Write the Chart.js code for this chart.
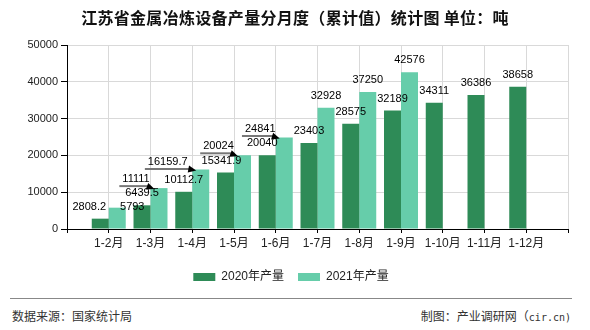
<!DOCTYPE html>
<html>
<head>
<meta charset="utf-8">
<script src="https://cdn.jsdelivr.net/npm/chart.js@4.4.0/dist/chart.umd.min.js"></script>
<style>
    body { margin: 0; background: #fff; }
    #wrap { position: relative; width: 590px; height: 330px; overflow: hidden; }
    #title {
        position: absolute; top: 6px; left: 0; width: 590px; text-align: center;
        font: bold 16px "Noto Sans CJK SC", sans-serif; color: #111; line-height: 22px;
        letter-spacing: 0.3px;
    }
    #chart { position: absolute; left: 0; top: 0; }
    #rule { position: absolute; left: 10px; top: 298px; width: 562px; border-top: 1px solid #888; }
    .foot {
        position: absolute; top: 309px; font: 12px "Liberation Sans", "Noto Sans CJK SC", sans-serif;
        color: #333; line-height: 16px;
    }
    .mono { font: 10px "DejaVu Sans Mono", monospace; }
    #src { left: 12px; }
    #maker { right: 19px; }
</style>
</head>
<body>
<div id="wrap">
    <canvas id="chart" width="590" height="295"></canvas>
    <div id="title">江苏省金属冶炼设备产量分月度（累计值）统计图 单位：吨</div>
    <div id="rule"></div>
    <div class="foot" id="src">数据来源：国家统计局</div>
    <div class="foot" id="maker">制图：产业调研网（<span class="mono">cir.cn)</span></div>
</div>
<script>
const months = ['1-2月', '1-3月', '1-4月', '1-5月', '1-6月', '1-7月', '1-8月', '1-9月', '1-10月', '1-11月', '1-12月'];
const output2020 = [2808.2, 6439.5, 10112.7, 15341.9, 20040, 23403, 28575, 32189, 34311, 36386, 38658];
const output2021 = [5793, 11111, 16159.7, 20024, 24841, 32928, 37250, 42576];
const seriesNames = ['2020年产量', '2021年产量'];
const yTicks = [0, 10000, 20000, 30000, 40000, 50000];

// label nudges (dataset, month index) so the crowded early labels sit like the original
const labelNudge = {
    '0-0': {dx: -11, dy: 0},
    '0-3': {dx: -4, dy: 0},
    '0-4': {dx: -5, dy: 0},
    '1-0': {dx: 15, dy: 11.5},
    '1-1': {dx: -23, dy: 3, arrow: true},
    '1-2': {dx: -33, dy: 4.5, arrow: true},
    '1-3': {dx: -24, dy: 3, arrow: true},
    '1-4': {dx: -24, dy: 3.5, arrow: true}
};

const FONT = '"Liberation Sans", "Noto Sans CJK SC", sans-serif';

// one empty slot on each side so the months sit on the grid lines
const labels = [''].concat(months, ['']);
function pad(arr) {
    const out = [null].concat(arr);
    while (out.length < labels.length) out.push(null);
    return out;
}

const valueLabels = {
    id: 'valueLabels',
    afterDatasetsDraw(chart) {
        const ctx = chart.ctx;
        ctx.save();
        ctx.font = '11px ' + FONT;
        ctx.textAlign = 'center';
        ctx.textBaseline = 'middle';
        chart.data.datasets.forEach((ds, di) => {
            const meta = chart.getDatasetMeta(di);
            meta.data.forEach((bar, i) => {
                const v = ds.data[i];
                if (v === null || v === undefined) return;
                const nudge = labelNudge[di + '-' + (i - 1)] || {dx: 0, dy: 0};
                const text = String(v);
                const cx = bar.x + nudge.dx;
                const cy = bar.y - 12 + nudge.dy;
                ctx.fillStyle = '#000';
                ctx.fillText(text, cx, cy);
                if (nudge.arrow) {
                    const w = ctx.measureText(text).width;
                    const barLeft = bar.x - bar.width / 2;
                    const lineY = cy + 7;
                    const tipX = barLeft + 4, tipY = bar.y + 1;
                    ctx.strokeStyle = '#777';
                    ctx.lineWidth = 2;
                    ctx.beginPath();
                    ctx.moveTo(cx - w / 2 - 3, lineY);
                    ctx.lineTo(tipX - 6, lineY);
                    ctx.stroke();
                    const ang = Math.atan2(tipY - lineY, 8);
                    ctx.fillStyle = '#000';
                    ctx.beginPath();
                    ctx.moveTo(tipX, tipY);
                    ctx.lineTo(tipX - 8 * Math.cos(ang) + 3.5 * Math.sin(ang), tipY - 8 * Math.sin(ang) - 3.5 * Math.cos(ang));
                    ctx.lineTo(tipX - 8 * Math.cos(ang) - 3.5 * Math.sin(ang), tipY - 8 * Math.sin(ang) + 3.5 * Math.cos(ang));
                    ctx.closePath();
                    ctx.fill();
                }
            });
        });
        ctx.restore();
    }
};

const ctx = document.getElementById('chart').getContext('2d');
new Chart(ctx, {
    type: 'bar',
    data: {
        labels: labels,
        datasets: [{
            label: seriesNames[0],
            data: pad(output2020),
            backgroundColor: '#2e8b57',
            categoryPercentage: 0.814,
            barPercentage: 1
        }, {
            label: seriesNames[1],
            data: pad(output2021),
            backgroundColor: '#66cdaa',
            categoryPercentage: 0.814,
            barPercentage: 1
        }]
    },
    options: {
        responsive: false,
        animation: false,
        devicePixelRatio: 1,
        layout: { padding: { top: 45, left: 14, right: 22, bottom: 2 } },
        plugins: {
            legend: {
                position: 'bottom',
                labels: {
                    boxWidth: 22,
                    boxHeight: 8,
                    padding: 14,
                    color: '#222',
                    font: { size: 12, family: FONT }
                }
            },
            tooltip: { enabled: false }
        },
        scales: {
            x: {
                offset: false,
                grid: { offset: false, color: '#d9d9d9', tickColor: '#000', tickLength: 4 },
                border: { color: '#000' },
                ticks: { autoSkip: false, maxRotation: 0, padding: 3, color: '#222', font: { size: 12, family: FONT } },
                afterFit(scale) { scale.height = 28; }
            },
            y: {
                min: 0,
                max: 50000,
                afterBuildTicks(scale) { scale.ticks = yTicks.map(v => ({ value: v })); },
                grid: { color: '#d9d9d9', tickColor: '#000', tickLength: 6 },
                border: { color: '#000' },
                ticks: {
                    padding: 3, color: '#222', font: { size: 11, family: FONT },
                    callback: v => String(v)
                },
                afterFit(scale) { scale.width = 53; }
            }
        }
    },
    plugins: [valueLabels]
});
</script>
</body>
</html>
